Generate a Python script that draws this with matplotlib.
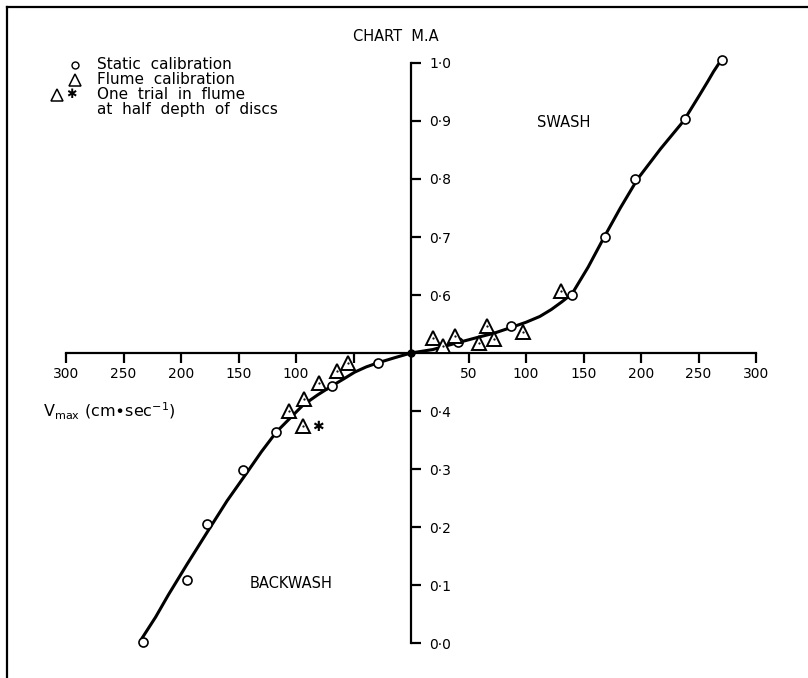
import matplotlib
matplotlib.use("Agg")
import matplotlib.pyplot as plt
from matplotlib.lines import Line2D

# static calibration (circles)
static_v = [-233, -195, -177, -146, -117, -69, -29, 41, 87, 140, 169, 195, 238, 270]
static_ma = [0.002, 0.109, 0.205, 0.298, 0.364, 0.443, 0.483, 0.519, 0.547, 0.600, 0.700, 0.800, 0.903, 1.005]

# flume calibration (triangles)
flume_v = [19, 28, 38, 59, 66, 72, 97, 130, -55, -64, -80, -93, -106]
flume_ma = [0.526, 0.512, 0.529, 0.517, 0.547, 0.524, 0.536, 0.607, 0.483, 0.469, 0.448, 0.421, 0.400]

# one trial at half depth of discs
half_v = [-94]
half_ma = [0.374]

# hand-drawn calibration curve
curve_v = [-234, -222, -211, -195, -176, -160, -144, -130, -117, -105, -94, -81, -69,
           -58, -49, -39, -29, -14, 0, 19, 41, 60, 72, 87, 100, 112, 122, 131, 140,
           154, 168, 182, 197, 217, 237, 251, 258, 263, 269]
curve_ma = [0.008, 0.045, 0.083, 0.135, 0.195, 0.245, 0.290, 0.330, 0.364, 0.388, 0.410,
            0.428, 0.443, 0.456, 0.467, 0.476, 0.483, 0.492, 0.500, 0.506, 0.518, 0.528,
            0.534, 0.544, 0.553, 0.563, 0.575, 0.588, 0.602, 0.648, 0.700, 0.750, 0.800,
            0.852, 0.900, 0.945, 0.968, 0.985, 1.003]

x_ticks = [-300, -250, -200, -150, -100, -50, 50, 100, 150, 200, 250, 300]
x_labels = ["300", "250", "200", "150", "100", "", "50", "100", "150", "200", "250", "300"]
y_ticks = [0.0, 0.1, 0.2, 0.3, 0.4, 0.6, 0.7, 0.8, 0.9, 1.0]
y_labels = ["0·0", "0·1", "0·2", "0·3", "0·4", "0·6", "0·7", "0·8", "0·9", "1·0"]

plt.rcParams["font.family"] = ["DejaVu Sans"]
plt.rcParams["font.size"] = 10

fig = plt.figure(figsize=(8.08, 6.78), dpi=100)
ax = fig.add_axes([0, 0, 1, 1])
ax.set_xlim(-357.4, 345.2)
ax.set_ylim(-0.0603, 1.1086)
ax.patch.set_alpha(0)

# axes crossing at (0, 0.5)
ax.spines["top"].set_visible(False)
ax.spines["left"].set_visible(False)
ax.spines["bottom"].set_position(("data", 0.5))
ax.spines["bottom"].set_bounds(-300, 300)
ax.spines["right"].set_position(("data", 0))
ax.spines["right"].set_bounds(0, 1)
for s in ("bottom", "right"):
    ax.spines[s].set_linewidth(1.6)

ax.yaxis.tick_right()
ax.set_xticks(x_ticks)
ax.set_xticklabels(x_labels)
ax.set_yticks(y_ticks)
ax.set_yticklabels(y_labels)
ax.tick_params(axis="x", direction="out", length=7, width=1.6, pad=3, labelsize=10)
ax.tick_params(axis="y", direction="out", length=7, width=1.6, pad=6, labelsize=10)

ax.plot(curve_v, curve_ma, color="black", lw=2.2, solid_capstyle="round", zorder=3)
ax.plot(static_v, static_ma, "o", ms=6.5, mfc="white", mec="black", mew=1.2, zorder=4)
ax.plot(flume_v, flume_ma, "^", ms=9.5, mfc="white", mec="black", mew=1.4, zorder=4)
ax.plot(flume_v, flume_ma, ".", ms=1.2, color="black", zorder=5)
ax.plot(half_v, half_ma, "^", ms=9.5, mfc="white", mec="black", mew=1.4, zorder=4)
ax.plot(half_v, half_ma, ".", ms=1.2, color="black", zorder=5)
ax.text(half_v[0] + 8, half_ma[0] - 0.002, "✱", fontsize=10, va="center", ha="left")
ax.plot([0], [0.5], "o", ms=5, color="black", zorder=5)

# labels
ax.text(-13, 1.045, "CHART  M.A", ha="center", va="center", fontsize=10.5)
ax.text(133, 0.897, "SWASH", ha="center", va="center", fontsize=10.5)
ax.text(-104, 0.103, "BACKWASH", ha="center", va="center", fontsize=10.5)
ax.text(-320, 0.4, r"V$_{\mathrm{max}}$ (cm$\bullet$sec$^{-1}$)", ha="left", va="center", fontsize=11.5)

# legend block
leg_x = -273
ax.plot([-292], [0.997], "o", ms=5, mfc="white", mec="black", mew=1.0)
ax.text(leg_x, 0.997, "Static  calibration", va="center", ha="left", fontsize=11)
ax.plot([-292], [0.971], "^", ms=8, mfc="white", mec="black", mew=1.1)
ax.text(leg_x, 0.971, "Flume  calibration", va="center", ha="left", fontsize=11)
ax.plot([-308], [0.945], "^", ms=8, mfc="white", mec="black", mew=1.1)
ax.text(-300, 0.945, "✱", va="center", ha="left", fontsize=9)
ax.text(leg_x, 0.945, "One  trial  in  flume", va="center", ha="left", fontsize=11)
ax.text(leg_x, 0.919, "at  half  depth  of  discs", va="center", ha="left", fontsize=11)

# scanned frame: top and left edges only
fig.add_artist(Line2D([7 / 808, 1], [1 - 7 / 678, 1 - 7 / 678], color="black", lw=1.6))
fig.add_artist(Line2D([7 / 808, 7 / 808], [0, 1 - 7 / 678], color="black", lw=1.6))

fig.savefig("out.png", dpi=100)
